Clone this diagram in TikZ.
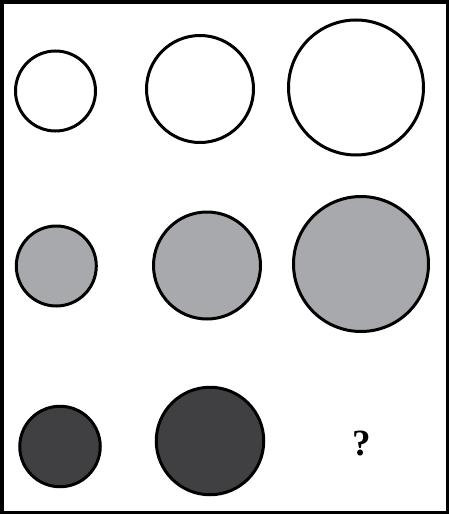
\documentclass[tikz,border=0pt]{standalone}
\usepackage{fontspec}
\setmainfont{Liberation Serif}
\usepackage{tikz}
\definecolor{ringgray}{RGB}{168,169,173}
\definecolor{ringdark}{RGB}{64,64,66}
\tikzset{
  disc/.style={draw=black, circle, line width=3pt, inner sep=0pt},
  frame/.style={draw=black, line width=3.5pt}
}

\begin{document}
\begin{tikzpicture}[x=1pt, y=-1pt]
  \useasboundingbox (0,0) rectangle (449,514);
  \draw[frame] (1.75,1.75) rectangle (447.25,512.25);
  % row 1: white
  \node[disc, fill=white, minimum size=80pt] (w1) at (55.5,91) {};
  \node[disc, fill=white, minimum size=107pt] (w2) at (200,89) {};
  \node[disc, fill=white, minimum size=135pt] (w3) at (356,87.5) {};
  % row 2: gray
  \node[disc, fill=ringgray, minimum size=80pt] (g1) at (56.3,266) {};
  \node[disc, fill=ringgray, minimum size=107pt] (g2) at (207,265.5) {};
  \node[disc, fill=ringgray, minimum size=135pt] (g3) at (361,264) {};
  % row 3: dark
  \node[disc, fill=ringdark, minimum size=80.5pt] (d1) at (60,446.5) {};
  \node[disc, fill=ringdark, minimum size=107.5pt] (d2) at (210,441) {};
  \node[inner sep=0pt] (q) at (362,443.5) {\fontsize{37}{42}\selectfont\bfseries ?};
\end{tikzpicture}
\end{document}
